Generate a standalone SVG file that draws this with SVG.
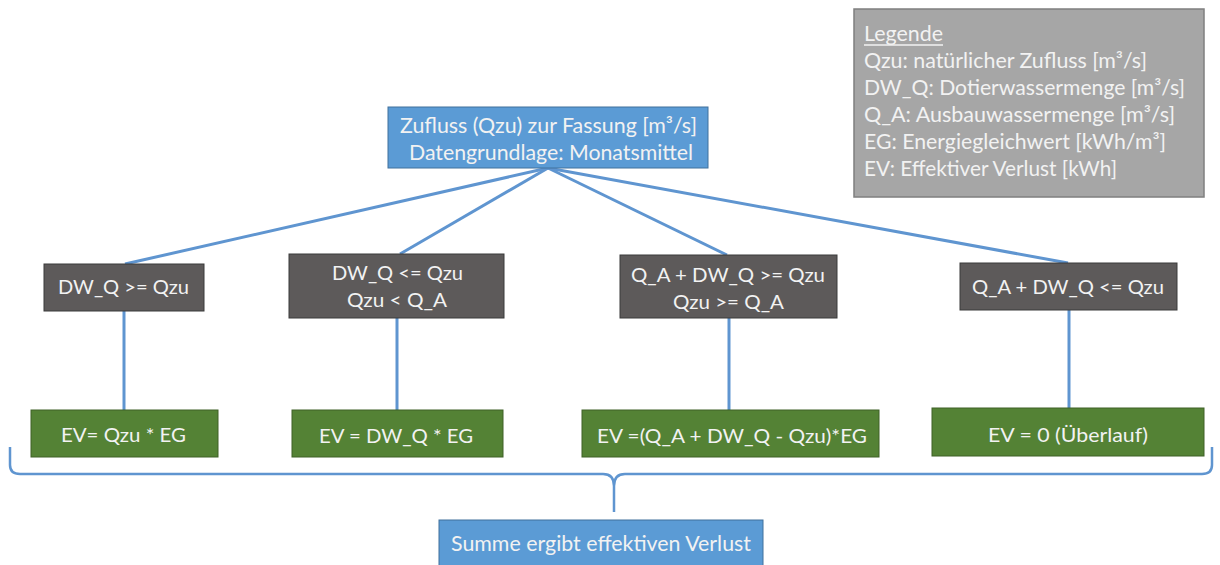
<svg xmlns="http://www.w3.org/2000/svg" width="1220" height="565" viewBox="0 0 1220 565">
<style>
text{font-family:Lato,"Open Sans","Liberation Sans",sans-serif;fill:#f2f2f2;text-anchor:middle}
.blue{fill:#5b9bd5;stroke:#41719c;stroke-width:1}
.gray{fill:#5d5a5a;stroke:#3a3a3a;stroke-width:1}
.green{fill:#548235;stroke:#3e6127;stroke-width:1}
.con{stroke:#5f95d0;stroke-width:3;fill:none}
.t{font-size:20px}
.tb{font-size:21px}
.leg{font-size:21px;text-anchor:start}
</style>
<rect width="1220" height="565" fill="#ffffff"/>
<g id="connectors">
<line class="con" x1="548" y1="168" x2="125" y2="264"/>
<line class="con" x1="548" y1="168" x2="400" y2="254"/>
<line class="con" x1="548" y1="168" x2="727" y2="255"/>
<line class="con" x1="548" y1="168" x2="1068" y2="263"/>
<line class="con" x1="124" y1="311" x2="124" y2="410"/>
<line class="con" x1="397" y1="318" x2="397" y2="410"/>
<line class="con" x1="729" y1="318" x2="729" y2="410"/>
<line class="con" x1="1069" y1="310" x2="1069" y2="408"/>
<path class="con" style="stroke-width:2.5" d="M10,447 L10,465 Q10,474 20,474 L603,474 Q614,474 614,486 L614,512 M614,486 Q614,474 625,474 L1202,474 Q1212,474 1212,465 L1212,447"/>
</g>
<g id="legend">
<rect x="854" y="9" width="350" height="188" fill="#a6a6a6" stroke="#7f7f7f" stroke-width="1.5"/>
<text class="leg" x="864" y="41" textLength="79" lengthAdjust="spacingAndGlyphs">Legende</text>
<line x1="864" y1="45" x2="943" y2="45" stroke="#f2f2f2" stroke-width="1.3"/>
<text class="leg" x="864" y="68" textLength="283" lengthAdjust="spacingAndGlyphs">Qzu: natürlicher Zufluss [m³/s]</text>
<text class="leg" x="864" y="95" textLength="321" lengthAdjust="spacingAndGlyphs">DW_Q: Dotierwassermenge [m³/s]</text>
<text class="leg" x="864" y="122" textLength="311" lengthAdjust="spacingAndGlyphs">Q_A: Ausbauwassermenge [m³/s]</text>
<text class="leg" x="864" y="149" textLength="302" lengthAdjust="spacingAndGlyphs">EG: Energiegleichwert [kWh/m³]</text>
<text class="leg" x="864" y="176" textLength="253" lengthAdjust="spacingAndGlyphs">EV: Effektiver Verlust [kWh]</text>
</g>
<g id="top">
<rect class="blue" x="388" y="107" width="320" height="61"/>
<text class="tb" x="548.5" y="133" textLength="297" lengthAdjust="spacingAndGlyphs">Zufluss (Qzu) zur Fassung [m³/s]</text>
<text class="tb" x="551" y="160" textLength="284" lengthAdjust="spacingAndGlyphs">Datengrundlage: Monatsmittel</text>
</g>
<g id="c1">
<rect class="gray" x="44" y="264" width="160" height="47"/>
<text class="t" x="123.5" y="294" textLength="131" lengthAdjust="spacingAndGlyphs">DW_Q &gt;= Qzu</text>
</g>
<g id="c2">
<rect class="gray" x="289" y="254" width="215" height="64"/>
<text class="t" x="397.5" y="280" textLength="131" lengthAdjust="spacingAndGlyphs">DW_Q &lt;= Qzu</text>
<text class="t" x="397" y="307" textLength="100" lengthAdjust="spacingAndGlyphs">Qzu &lt; Q_A</text>
</g>
<g id="c3">
<rect class="gray" x="620" y="255" width="217" height="63"/>
<text class="t" x="728" y="282" textLength="194" lengthAdjust="spacingAndGlyphs">Q_A + DW_Q &gt;= Qzu</text>
<text class="t" x="728.5" y="309" textLength="111" lengthAdjust="spacingAndGlyphs">Qzu &gt;= Q_A</text>
</g>
<g id="c4">
<rect class="gray" x="960" y="263" width="217" height="47"/>
<text class="t" x="1068" y="294" textLength="192" lengthAdjust="spacingAndGlyphs">Q_A + DW_Q &lt;= Qzu</text>
</g>
<g id="r1">
<rect class="green" x="31" y="410" width="187" height="47"/>
<text class="t" x="123.5" y="442" textLength="125" lengthAdjust="spacingAndGlyphs">EV= Qzu * EG</text>
</g>
<g id="r2">
<rect class="green" x="292" y="410" width="211" height="47"/>
<text class="t" x="396" y="443" textLength="154" lengthAdjust="spacingAndGlyphs">EV = DW_Q * EG</text>
</g>
<g id="r3">
<rect class="green" x="582" y="410" width="297" height="47"/>
<text class="t" x="732" y="443" textLength="270" lengthAdjust="spacingAndGlyphs">EV =(Q_A + DW_Q - Qzu)*EG</text>
</g>
<g id="r4">
<rect class="green" x="932" y="408" width="272" height="48"/>
<text class="t" x="1068" y="442" textLength="160" lengthAdjust="spacingAndGlyphs">EV = 0 (Überlauf)</text>
</g>
<g id="sum">
<rect class="blue" x="439" y="520" width="324" height="52"/>
<text class="tb" x="601" y="551" textLength="300" lengthAdjust="spacingAndGlyphs">Summe ergibt effektiven Verlust</text>
</g>
</svg>
